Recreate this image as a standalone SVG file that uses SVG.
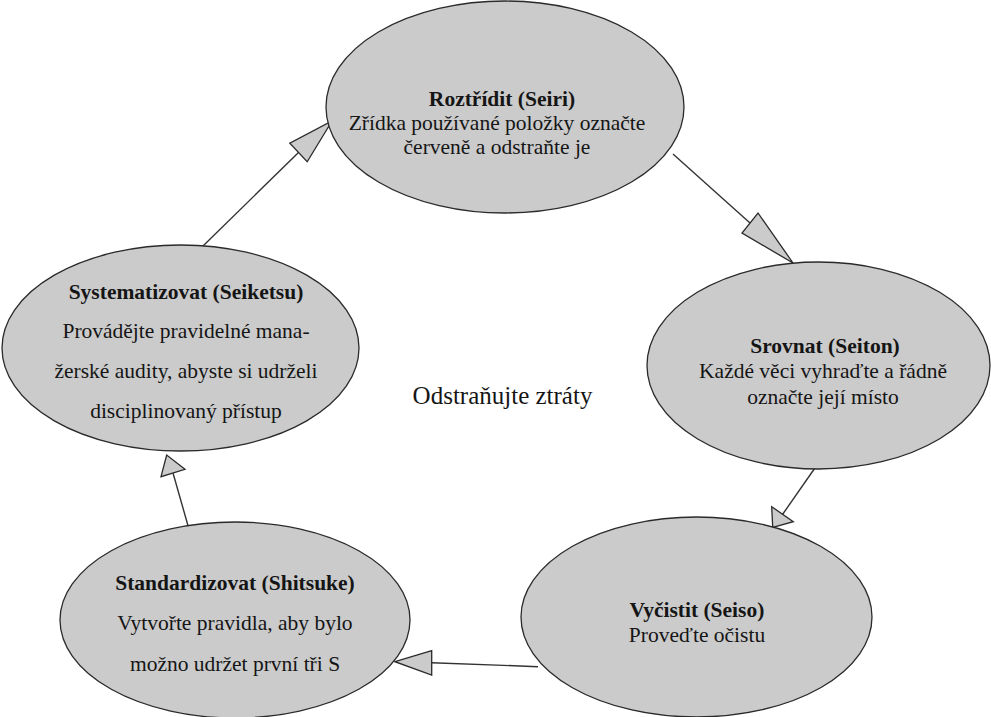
<svg xmlns="http://www.w3.org/2000/svg" width="991" height="717" viewBox="0 0 991 717">
<style>
.node ellipse{fill:#cbcbcb;stroke:#2a2a2a;stroke-width:1.3}
.c line{stroke:#333;stroke-width:1.4}
.c polygon{fill:#cbcbcb;stroke:#2a2a2a;stroke-width:1.3;stroke-linejoin:miter}
</style>
<rect width="991" height="717" fill="#fff"/>
<g id="connectors" class="c">
<line x1="203" y1="246" x2="298.5" y2="152.5"/>
<polygon points="332,121 307.2,161.8 289.8,143.2"/>
<line x1="673" y1="154" x2="750" y2="223"/>
<polygon points="793,263 758,213 742,233"/>
<line x1="817" y1="465" x2="782.5" y2="514.5"/>
<polygon points="772.7,527.3 771.7,506.7 793.3,521.7"/>
<line x1="538" y1="666.7" x2="431.7" y2="662.7"/>
<polygon points="395,661.7 431.7,650.7 431.7,675"/>
<line x1="188.3" y1="526.7" x2="173" y2="473"/>
<polygon points="166.7,455 161,476.7 185,469.3"/>
</g>
<g font-family="Liberation Serif" font-size="21.5" fill="#151515" text-anchor="middle">
<g id="seiri" class="node">
<ellipse cx="505" cy="107" rx="179" ry="106"/>
<text font-weight="bold" x="502" y="106">Roztřídit (Seiri)</text>
<text x="497" y="130">Zřídka používané položky označte</text>
<text x="497" y="154">červeně a odstraňte je</text>
</g>
<g id="seiton" class="node">
<ellipse cx="818.5" cy="365.5" rx="171.5" ry="103.5"/>
<text font-weight="bold" x="825" y="353">Srovnat (Seiton)</text>
<text x="823" y="378">Každé věci vyhraďte a řádně</text>
<text x="823" y="404">označte její místo</text>
</g>
<g id="seiso" class="node">
<ellipse cx="696.5" cy="617" rx="175.5" ry="100"/>
<text font-weight="bold" x="697" y="617">Vyčistit (Seiso)</text>
<text x="697" y="642">Proveďte očistu</text>
</g>
<g id="shitsuke" class="node">
<ellipse cx="235" cy="620" rx="175" ry="98"/>
<text font-weight="bold" x="235" y="590">Standardizovat (Shitsuke)</text>
<text x="235" y="630">Vytvořte pravidla, aby bylo</text>
<text x="235" y="671">možno udržet první tři S</text>
</g>
<g id="seiketsu" class="node">
<ellipse cx="180.5" cy="348" rx="178.5" ry="103"/>
<text font-weight="bold" x="186" y="299">Systematizovat (Seiketsu)</text>
<text x="186" y="338">Provádějte pravidelné mana-</text>
<text x="186" y="378">žerské audity, abyste si udrželi</text>
<text x="186" y="418">disciplinovaný přístup</text>
</g>
<text font-size="25" x="502.5" y="404">Odstraňujte ztráty</text>
</g>
</svg>
